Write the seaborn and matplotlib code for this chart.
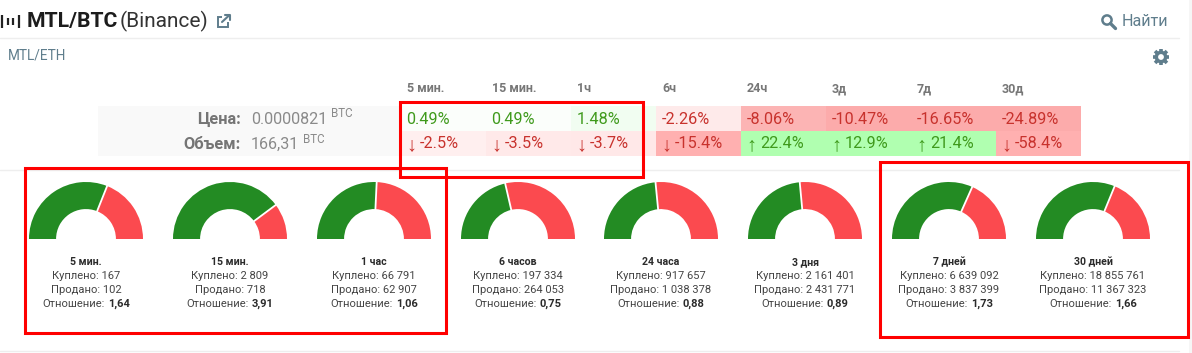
import matplotlib
matplotlib.use('Agg')
import matplotlib.pyplot as plt
from matplotlib.colors import LinearSegmentedColormap
from matplotlib.patches import Rectangle, Circle
import numpy as np
import seaborn as sns

sns.set_theme(style='white')
plt.rcParams['font.family'] = ['Roboto', 'Liberation Sans', 'DejaVu Sans']

W, H = 1192, 353

periods = ['5 мин.', '15 мин.', '1ч', '6ч', '24ч', '3д', '7д', '30д']
price_change = [0.49, 0.49, 1.48, -2.26, -8.06, -10.47, -16.65, -24.89]
volume_change = [-2.5, -3.5, -3.7, -15.4, 22.4, 12.9, 21.4, -58.4]

gauge_titles = ['5 мин.', '15 мин.', '1 час', '6 часов', '24 часа', '3 дня', '7 дней', '30 дней']
bought = [167, 2809, 66791, 197334, 917657, 2161401, 6639092, 18855761]
sold = [102, 718, 62907, 264053, 1038378, 2431771, 3837399, 11367323]
ratios = ['1,64', '3,91', '1,06', '0,75', '0,88', '0,89', '1,73', '1,66']

GREEN_TXT = '#3f9a1c'
RED_TXT = '#c8322d'
BLUE_GREY = '#5f7d8c'

fig = plt.figure(figsize=(W / 100, H / 100), dpi=100, facecolor='white')


def px_axes(x0, y0, x1, y1, **kw):
    return fig.add_axes([x0 / W, 1 - y1 / H, (x1 - x0) / W, (y1 - y0) / H], **kw)


# page layer in pixel coordinates
bg = px_axes(0, 0, W, H)
bg.set_xlim(0, W)
bg.set_ylim(H, 0)
bg.axis('off')
bg.add_patch(Rectangle((98, 106), 303, 50, color='#f9f9f9', lw=0))
for y, x1 in [(38, 1179), (170, 1179), (351, 1179)]:
    bg.plot([0, x1], [y, y], color='#eeeeee', lw=1)
bg.add_patch(Rectangle((1189, 0), 3, H, color='#f6f6f6', lw=0))

# header
for x, y0, y1 in [(2, 15, 28), (7.5, 18, 25), (12.5, 18, 25), (19, 15, 28)]:
    bg.plot([x, x], [y0, y1], color='#222222', lw=1.6, solid_capstyle='butt')
bg.text(27, 21.5, 'MTL/BTC', fontsize=15.2, fontweight='bold', color='#1c1c1c', va='center')
bg.text(120, 21.5, '(Binance)', fontsize=15, color='#333333', va='center')
bg.add_patch(Rectangle((217.5, 17), 10, 10, fill=False, ec=BLUE_GREY, lw=1.4))
bg.add_patch(Rectangle((222, 14), 9, 8, color='white', lw=0))
bg.plot([222, 229], [22, 15.5], color=BLUE_GREY, lw=1.5)
bg.plot([225, 229.5, 229.5], [15, 15, 19.5], color=BLUE_GREY, lw=1.5)
bg.text(8, 55.5, 'MTL/ETH', fontsize=9.8, color=BLUE_GREY, va='center')
bg.add_patch(Circle((1107, 20), 4.6, fill=False, ec=BLUE_GREY, lw=1.8))
bg.plot([1110.5, 1115.5], [23.5, 28.5], color=BLUE_GREY, lw=2.4)
bg.text(1122, 21.5, 'Найти', fontsize=11.6, color=BLUE_GREY, va='center')

# gear icon: crossed bars under a disc with a white hole
gx, gy = 1161, 57
for a in np.arange(4) * np.pi / 4:
    bg.plot([gx - 8.4 * np.cos(a), gx + 8.4 * np.cos(a)], [gy - 8.4 * np.sin(a), gy + 8.4 * np.sin(a)],
            color=BLUE_GREY, lw=2.6, solid_capstyle='butt')
bg.add_patch(Circle((gx, gy), 6.4, color=BLUE_GREY, lw=0, zorder=3))
bg.add_patch(Circle((gx, gy), 2.9, color='white', lw=0, zorder=4))

# price / volume labels
bg.text(241, 119, 'Цена:', fontsize=11.8, fontweight='bold', color='#757575', ha='right', va='center')
bg.text(241, 144.5, 'Объем:', fontsize=11.8, fontweight='bold', color='#757575', ha='right', va='center')
bg.text(251, 119, '0.0000821', fontsize=11.6, color='#8a8a8a', va='center')
bg.text(251, 144.5, '166,31', fontsize=11.6, color='#8a8a8a', va='center')
bg.text(331, 113.5, 'BTC', fontsize=8.4, color='#8a8a8a', va='center')
bg.text(303, 139.5, 'BTC', fontsize=8.4, color='#8a8a8a', va='center')

# change table, one heatmap per row since each row has its own colour scale
price_cmap = LinearSegmentedColormap.from_list('price', ['#fcabab', '#ffffff', '#abf5ab'])
volume_cmap = LinearSegmentedColormap.from_list('volume', ['#ffb0b0', '#ffffff', '#b0ffb0'])

ax_price = px_axes(401, 106, 1081, 131)
sns.heatmap([price_change], ax=ax_price, cmap=price_cmap, vmin=-9, vmax=9, cbar=False,
            xticklabels=False, yticklabels=False)
ax_vol = px_axes(401, 131, 1081, 156)
sns.heatmap([volume_change], ax=ax_vol, cmap=volume_cmap, vmin=-12.5, vmax=12.5, cbar=False,
            xticklabels=False, yticklabels=False)

for i, (p, v) in enumerate(zip(price_change, volume_change)):
    c_p = GREEN_TXT if p > 0 else RED_TXT
    c_v = GREEN_TXT if v > 0 else RED_TXT
    ax_price.text(i + 0.065, 0.54, f'{p:.2f}%', fontsize=11.7, va='center', color=c_p)
    ax_vol.text(i + 0.065, 0.56, '↑' if v > 0 else '↓', fontsize=14.5, va='center', color=c_v,
                family='Liberation Sans')
    ax_vol.text(i + 0.224, 0.5, f'{v}%', fontsize=11.7, va='center', color=c_v)
    ax_price.text(i + 0.07, -0.68, periods[i], fontsize=9, fontweight='bold', color='#777777',
                  va='center', clip_on=False)

# gauges
centers = [86, 230, 374, 518, 661, 805, 949, 1093]
R = 57
base_y = 239
for cx, title, b, s, r in zip(centers, gauge_titles, bought, sold, ratios):
    ax = px_axes(cx - R, base_y - R, cx + R, base_y + R)
    ax.pie([b, s, b + s], colors=['#238b23', '#fb4a4f', 'none'], startangle=180, counterclock=False,
           radius=1, wedgeprops={'width': 0.475, 'edgecolor': 'none'})
    # white gap between the two parts
    ang = np.pi * (1 - b / (b + s))
    ax.plot([0.5 * np.cos(ang), 1.02 * np.cos(ang)], [0.5 * np.sin(ang), 1.02 * np.sin(ang)],
            color='white', lw=1.3)
    ax.set_xlim(-1, 1)
    ax.set_ylim(-1, 1)
    ax.axis('off')

    bg.text(cx, 262, title, fontsize=7.6, fontweight='bold', color='#2b2b2b', ha='center', va='center')
    bg.text(cx, 276, 'Куплено: ' + f'{b:,}'.replace(',', ' '), fontsize=8, color='#444444',
            ha='center', va='center')
    bg.text(cx, 290, 'Продано: ' + f'{s:,}'.replace(',', ' '), fontsize=8, color='#444444',
            ha='center', va='center')
    # mixed weight line: measure both parts to centre them
    t1 = bg.text(0, 304, 'Отношение:', fontsize=8, color='#444444', va='center')
    t2 = bg.text(0, 304, r, fontsize=8, fontweight='bold', color='#2b2b2b', va='center')
    rend = fig.canvas.get_renderer()
    w1 = t1.get_window_extent(rend).width + 3
    w2 = t2.get_window_extent(rend).width
    t1.set_x(cx - (w1 + w2) / 2)
    t2.set_x(cx - (w1 + w2) / 2 + w1)

# red annotation boxes on top of everything
top = px_axes(0, 0, W, H, zorder=10)
top.set_xlim(0, W)
top.set_ylim(H, 0)
top.axis('off')
for x0, y0, x1, y1 in [(400, 102, 643, 177), (25, 168, 446, 333), (880, 162, 1188, 337)]:
    top.add_patch(Rectangle((x0, y0), x1 - x0, y1 - y0, fill=False, ec='#ff0000', lw=2.2,
                            joinstyle='miter'))

fig.savefig('out.png', dpi=100)
